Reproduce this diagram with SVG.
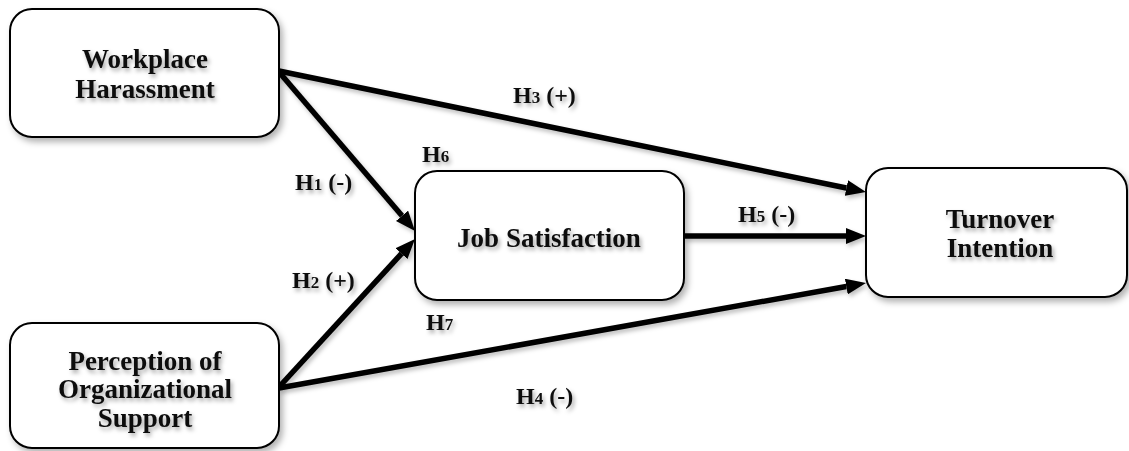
<svg xmlns="http://www.w3.org/2000/svg" width="1129" height="451" viewBox="0 0 1129 451">
  <defs>
    <filter id="boxShadow" x="-10%" y="-10%" width="125%" height="130%">
      <feDropShadow dx="3" dy="4" stdDeviation="3" flood-color="#000" flood-opacity="0.3"/>
    </filter>
    <filter id="textShadow" x="-10%" y="-20%" width="130%" height="160%">
      <feDropShadow dx="2" dy="3" stdDeviation="2" flood-color="#000" flood-opacity="0.35"/>
    </filter>
    <filter id="lineShadow" filterUnits="userSpaceOnUse" x="0" y="0" width="1129" height="451">
      <feDropShadow dx="2" dy="3" stdDeviation="2" flood-color="#000" flood-opacity="0.25"/>
    </filter>
    <marker id="arrow" markerUnits="userSpaceOnUse" markerWidth="20" markerHeight="16" refX="0" refY="8" orient="auto">
      <path d="M0,0 L20,8 L0,16 z" fill="#000"/>
    </marker>
  </defs>
  <style>
    .box { fill: #fff; stroke: #000; stroke-width: 2; filter: url(#boxShadow); }
    .ntext { font-family: "Liberation Serif", "Times New Roman", serif; font-weight: bold; font-size: 27px; fill: #111; text-anchor: middle; filter: url(#textShadow); }
    .lbl { font-family: "Liberation Serif", "Times New Roman", serif; font-weight: bold; font-size: 24px; fill: #111; filter: url(#textShadow); }
    .sub { font-size: 17px; }
    .conn { stroke: #000; stroke-width: 5.5; fill: none; marker-end: url(#arrow); }
  </style>
  <rect width="1129" height="451" fill="#fff"/>

  <g id="connectors" filter="url(#lineShadow)">
    <line class="conn" x1="279" y1="71" x2="846.4" y2="188"/>
    <line class="conn" x1="279" y1="72" x2="402" y2="215.8"/>
    <line class="conn" x1="279" y1="387" x2="401.5" y2="253.7"/>
    <line class="conn" x1="279" y1="388" x2="846.3" y2="286.5"/>
    <line class="conn" x1="684" y1="236" x2="846" y2="236"/>
  </g>

  <g id="node-workplace-harassment">
    <rect class="box" x="10" y="9" width="269" height="128" rx="22" ry="22"/>
    <text class="ntext" x="145" y="68">Workplace</text>
    <text class="ntext" x="145" y="98">Harassment</text>
  </g>

  <g id="node-perception">
    <rect class="box" x="10" y="323" width="269" height="125" rx="22" ry="22"/>
    <text class="ntext" x="145" y="370">Perception of</text>
    <text class="ntext" x="145" y="398">Organizational</text>
    <text class="ntext" x="145" y="427">Support</text>
  </g>

  <g id="node-job-satisfaction">
    <rect class="box" x="415" y="171" width="269" height="129" rx="22" ry="22"/>
    <text class="ntext" x="549" y="247">Job Satisfaction</text>
  </g>

  <g id="node-turnover">
    <rect class="box" x="866" y="168" width="261" height="129" rx="22" ry="22"/>
    <text class="ntext" x="1000" y="228">Turnover</text>
    <text class="ntext" x="1000" y="257">Intention</text>
  </g>

  <g id="labels">
    <text class="lbl" x="513" y="103">H<tspan class="sub">3</tspan> (+)</text>
    <text class="lbl" x="295" y="190">H<tspan class="sub">1</tspan> (-)</text>
    <text class="lbl" x="292" y="288">H<tspan class="sub">2</tspan> (+)</text>
    <text class="lbl" x="422" y="162">H<tspan class="sub">6</tspan></text>
    <text class="lbl" x="426" y="330">H<tspan class="sub">7</tspan></text>
    <text class="lbl" x="738" y="222">H<tspan class="sub">5</tspan> (-)</text>
    <text class="lbl" x="516" y="404">H<tspan class="sub">4</tspan> (-)</text>
  </g>
</svg>
